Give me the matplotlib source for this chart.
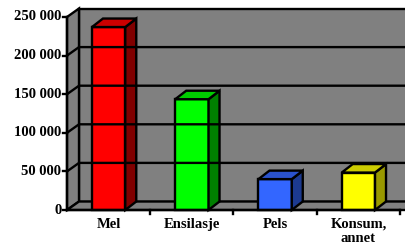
import numpy as np
import matplotlib.pyplot as plt
from matplotlib.patches import Polygon

categories = ['Mel', 'Ensilasje', 'Pels', 'Konsum,\nannet']
values = [237000, 143500, 40000, 48500]
front_colors = ['#ff0000', '#00ff00', '#3366ff', '#ffff00']
top_colors = ['#cc0000', '#00cc00', '#2a52cc', '#cccc00']
side_colors = ['#800000', '#008000', '#1c3a90', '#999900']
yticks = [0, 50000, 100000, 150000, 200000, 250000]
ytick_labels = ['0', '50 000', '100 000', '150 000', '200 000', '250 000']

plt.rcParams['font.family'] = ['Liberation Serif', 'DejaVu Serif']
plt.rcParams['font.weight'] = 'bold'

W, H = 406, 250
fig = plt.figure(figsize=(W / 100, H / 100), dpi=100)
# front frame of the 3d box
x0, x1, yb, yt = 67, 400, 210, 17
ax = fig.add_axes([x0 / W, 1 - yb / H, (x1 - x0) / W, (yb - yt) / H])
ax.set_xlim(-0.5, 3.5)
ax.set_ylim(0, 250000)
ax.axis('off')

# depth offset in data units (from pixels)
px_x = 4 / (x1 - x0)
px_y = 250000 / (yb - yt)
wdx, wdy = 12 * px_x, 8.5 * px_y   # walls
bdx, bdy = 11 * px_x, 8.5 * px_y   # bars

lw = 1.7
gray = '#808080'
k = dict(clip_on=False, lw=lw, ec='black', joinstyle='miter')

# back wall
ax.add_patch(Polygon([(-0.5 + wdx, wdy), (3.6 + wdx, wdy),
                      (3.6 + wdx, 250000 + wdy), (-0.5 + wdx, 250000 + wdy)],
                     fc=gray, **k))
# left wall
ax.add_patch(Polygon([(-0.5, 0), (-0.5 + wdx, wdy),
                      (-0.5 + wdx, 250000 + wdy), (-0.5, 250000)], fc=gray, **k))
# floor
ax.add_patch(Polygon([(-0.5, 0), (3.6, 0), (3.6 + wdx, wdy), (-0.5 + wdx, wdy)],
                     fc=gray, **k))

# gridlines
for v in yticks[1:-1]:
    ax.plot([-0.5, -0.5 + wdx, 3.6 + wdx], [v, v + wdy, v + wdy],
            color='black', lw=lw, clip_on=False, solid_joinstyle='miter')

# bars
width = 0.4
for i, v in enumerate(values):
    l, r = i - width / 2, i + width / 2
    ax.add_patch(Polygon([(l, 0), (r, 0), (r, v), (l, v)], fc=front_colors[i], **k))
    ax.add_patch(Polygon([(r, 0), (r + bdx, bdy), (r + bdx, v + bdy), (r, v)],
                         fc=side_colors[i], **k))
    ax.add_patch(Polygon([(l, v), (r, v), (r + bdx, v + bdy), (l + bdx, v + bdy)],
                         fc=top_colors[i], **k))

# front axes
ax.plot([-0.5, -0.5], [0, 250000], color='black', lw=lw, clip_on=False)
ax.plot([-0.5, 3.5], [0, 0], color='black', lw=lw, clip_on=False)
tl = 4 * px_x
for v, lab in zip(yticks, ytick_labels):
    ax.plot([-0.5 - tl, -0.5], [v, v], color='black', lw=lw, clip_on=False)
    ax.text(-0.5 - tl - 1.5 * px_x, v, lab, ha='right', va='center',
            fontsize=10.5, fontweight='bold')
for b in [0.5, 1.5, 2.5, 3.5]:
    ax.plot([b, b], [0, -4 * px_y], color='black', lw=lw, clip_on=False)
for i, c in enumerate(categories):
    ax.text(i, -8 * px_y, c, ha='center', va='top', fontsize=10.5,
            fontweight='bold', linespacing=1.1)

fig.savefig('out.png', dpi=100)
